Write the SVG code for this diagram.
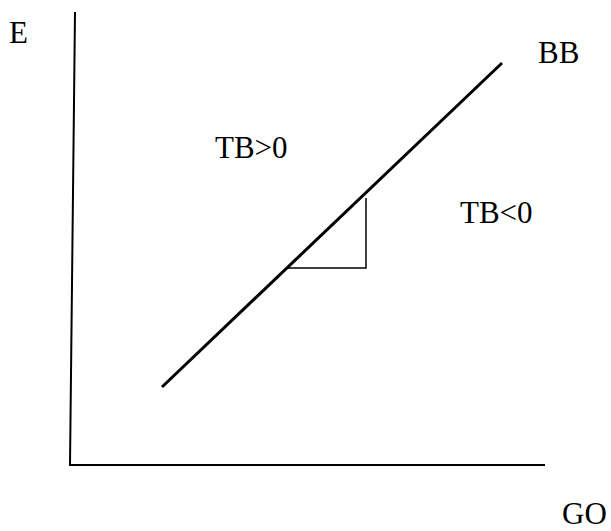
<svg xmlns="http://www.w3.org/2000/svg" width="611" height="531" viewBox="0 0 611 531">
<style>
text { font-family: "Liberation Serif", "Times New Roman", serif; font-size: 31px; fill: #000; }
.ax { stroke: #000; stroke-width: 2; fill: none; }
.bb { stroke: #000; stroke-width: 3; fill: none; }
.tri { stroke: #000; stroke-width: 1.5; fill: none; }
</style>
<rect width="611" height="531" fill="#fff"/>
<g id="connectors">
<polyline class="ax" points="75,12 70,465 545,465"/>
<line class="bb" x1="162" y1="387" x2="502" y2="63"/>
<polyline class="tri" points="288,268 366,268 366,198"/>
</g>
<g id="label-E"><text x="9" y="43">E</text></g>
<g id="label-BB"><text x="538" y="63">BB</text></g>
<g id="label-TBpos"><text x="215" y="158">TB&gt;0</text></g>
<g id="label-TBneg"><text x="460" y="223">TB&lt;0</text></g>
<g id="label-GO"><text x="562" y="524">GO</text></g>
</svg>
